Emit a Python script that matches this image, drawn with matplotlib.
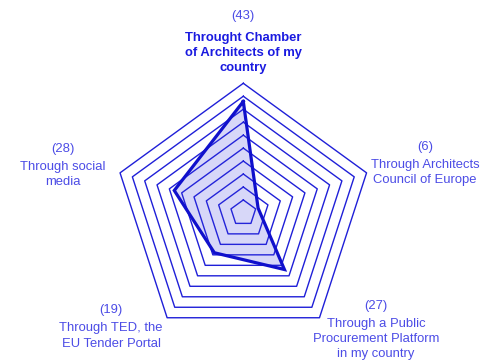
import numpy as np
import matplotlib
matplotlib.use("Agg")
import matplotlib.pyplot as plt

categories = [["Throught Chamber", "of Architects of my", "country"],
              ["Through Architects", "Council of Europe"],
              ["Through a Public", "Procurement Platform", "in my country"],
              ["Through TED, the", "EU Tender Portal"],
              ["Through social", "media"]]
values = [43, 6, 27, 19, 28]
max_value = 50
levels = np.arange(5, 55, 5)

W, H = 494, 360
cx_px, cy_px, R_px = 243.3, 212.9, 129.6
s = R_px / max_value  # px per unit

fig = plt.figure(figsize=(W / 100, H / 100), dpi=100)
ax = fig.add_axes([0, 0, 1, 1])
ax.set_xlim(-cx_px / s, (W - cx_px) / s)
ax.set_ylim(-(H - cy_px) / s, cy_px / s)
ax.set_aspect("equal")
ax.axis("off")

n = len(values)
angles = np.pi / 2 - np.arange(n) * 2 * np.pi / n
grid_color = "#1f1fd8"
for lv in levels:
    xs = np.append(lv * np.cos(angles), lv * np.cos(angles[0]))
    ys = np.append(lv * np.sin(angles), lv * np.sin(angles[0]))
    ax.plot(xs, ys, color=grid_color, lw=1.0, zorder=1)

v = np.array(values, dtype=float)
xs = np.append(v * np.cos(angles), v[0] * np.cos(angles[0]))
ys = np.append(v * np.sin(angles), v[0] * np.sin(angles[0]))
ax.fill(xs, ys, color="#3a3ae0", alpha=0.2, lw=0, zorder=2)
ax.plot(xs, ys, color="#1010cc", lw=2.3, zorder=3, solid_joinstyle="miter")

# label positions in pixels: (x, y of number, y of first text line)
label_pos = [(243, 15, 36), (425, 145, 163), (376, 304, 322), (111, 309, 327), (63, 147, 165)]
line_gap = 15.3
font = ["Liberation Sans", "DejaVu Sans"]
text_color = "#4c4ce6"
fs = 9.4
for i, (cat, val) in enumerate(zip(categories, values)):
    px, ny, ty = label_pos[i]
    x = (px - cx_px) / s
    ax.text(x, (cy_px - ny) / s, f"({val})", ha="center", va="center_baseline",
            fontsize=fs, color=text_color, family=font)
    bold = (i == 0)
    for k, line in enumerate(cat):
        y = (cy_px - (ty + k * line_gap)) / s
        ax.text(x, y, line, ha="center", va="center_baseline",
                fontsize=fs, color="#1a1ae0" if bold else text_color,
                fontweight="bold" if bold else "normal", family=font)

fig.savefig("out.png", dpi=100)
